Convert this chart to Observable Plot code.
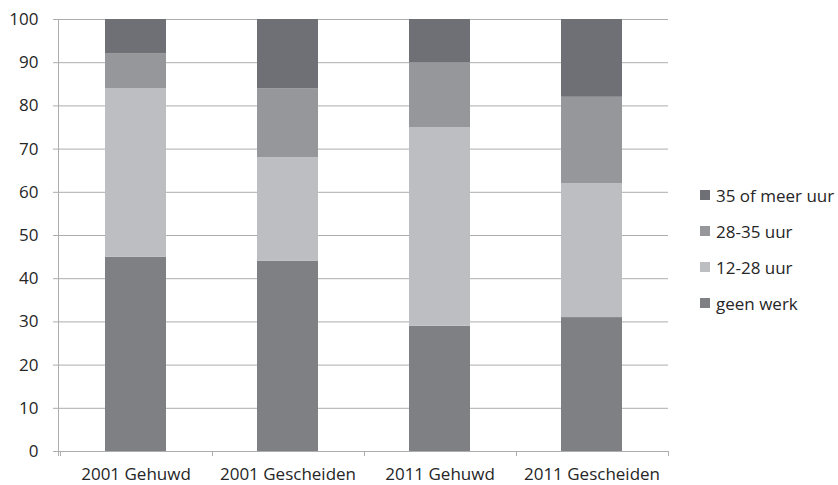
<!DOCTYPE html>
<html><head><meta charset="utf-8">
<script src="https://cdn.jsdelivr.net/npm/d3@7"></script>
<script src="https://cdn.jsdelivr.net/npm/@observablehq/plot@0.6"></script>
<style>
body{margin:0;background:#fff;font-family:"Open Sans",sans-serif;}
#c{position:relative;width:838px;height:485px;}
.leg{position:absolute;left:700px;font-size:17px;color:#262626;display:flex;align-items:center;white-space:nowrap;line-height:1;}
.leg span.sw{display:inline-block;width:10px;height:10px;margin-right:6px;}
</style>
</head><body><div id="c"></div>
<script>
const categories = ["2001 Gehuwd","2001 Gescheiden","2011 Gehuwd","2011 Gescheiden"];
const series = ["geen werk","12-28 uur","28-35 uur","35 of meer uur"];
const geenWerk = [45,44,29,31];
const uur12_28 = [39,24,46,31];
const uur28_35 = [8,16,15,20];
const uur35plus = [8,16,10,18];
const colors = ["#7f8084","#bdbec2","#96979b","#6f7075"];
const yTicks = [0,10,20,30,40,50,60,70,80,90,100];

const valuesBySeries = [geenWerk, uur12_28, uur28_35, uur35plus];
const data = [];
series.forEach((s, si) => categories.forEach((c, ci) => data.push({cat: c, series: s, value: valuesBySeries[si][ci]})));

const axisColor = "#adadad";

function axisExtras(index, scales, values, dims) {
  const g = d3.create("svg:g");
  const x = scales.x, y = scales.y;
  const step = x(categories[1]) - x(categories[0]);
  const bw = x.bandwidth ? x.bandwidth() : 0;
  const gap = (step - bw) / 2;
  const y0 = y(0), y1 = y(100);
  const left = dims.marginLeft;
  g.append("line").attr("x1", left + 0.5).attr("x2", left + 0.5).attr("y1", y1).attr("y2", y0 + 5).attr("stroke", axisColor);
  const bounds = categories.map(c => x(c) - gap);
  bounds.push(x(categories[categories.length - 1]) + bw + gap);
  bounds.forEach(b => {
    g.append("line").attr("x1", Math.round(b) + 0.5).attr("x2", Math.round(b) + 0.5).attr("y1", y0).attr("y2", y0 + 5).attr("stroke", axisColor);
  });
  return g.node();
}

const chart = Plot.plot({
  width: 838,
  height: 485,
  marginLeft: 58,
  marginRight: 170,
  marginTop: 19,
  marginBottom: 34,
  style: {fontFamily: "'Open Sans', sans-serif", fontSize: "17px", color: "#262626", background: "#fff"},
  x: {domain: categories, paddingInner: 0.6, paddingOuter: 0.3, label: null},
  y: {domain: [0, 100], label: null},
  color: {domain: series, range: colors},
  marks: [
    Plot.ruleY(yTicks, {stroke: axisColor, strokeWidth: 1}),
    Plot.barY(data, {x: "cat", y: "value", fill: "series", order: series}),
    Plot.axisY({ticks: yTicks, tickSize: 5, tickPadding: 15, stroke: axisColor, fill: "#262626", label: null, fontSize: 17}),
    Plot.axisX({tickSize: 0, tickPadding: 16, label: null, fill: "#262626", fontSize: 17}),
    axisExtras
  ]
});
const c = document.getElementById("c");
c.appendChild(chart);

const legendY = [303, 267, 231, 195];
series.forEach((s, i) => {
  const d = document.createElement("div");
  d.className = "leg";
  d.style.top = (legendY[i] - 9) + "px";
  d.style.height = "18px";
  d.innerHTML = `<span class="sw" style="background:${colors[i]}"></span>${s}`;
  c.appendChild(d);
});
</script>
</body></html>
